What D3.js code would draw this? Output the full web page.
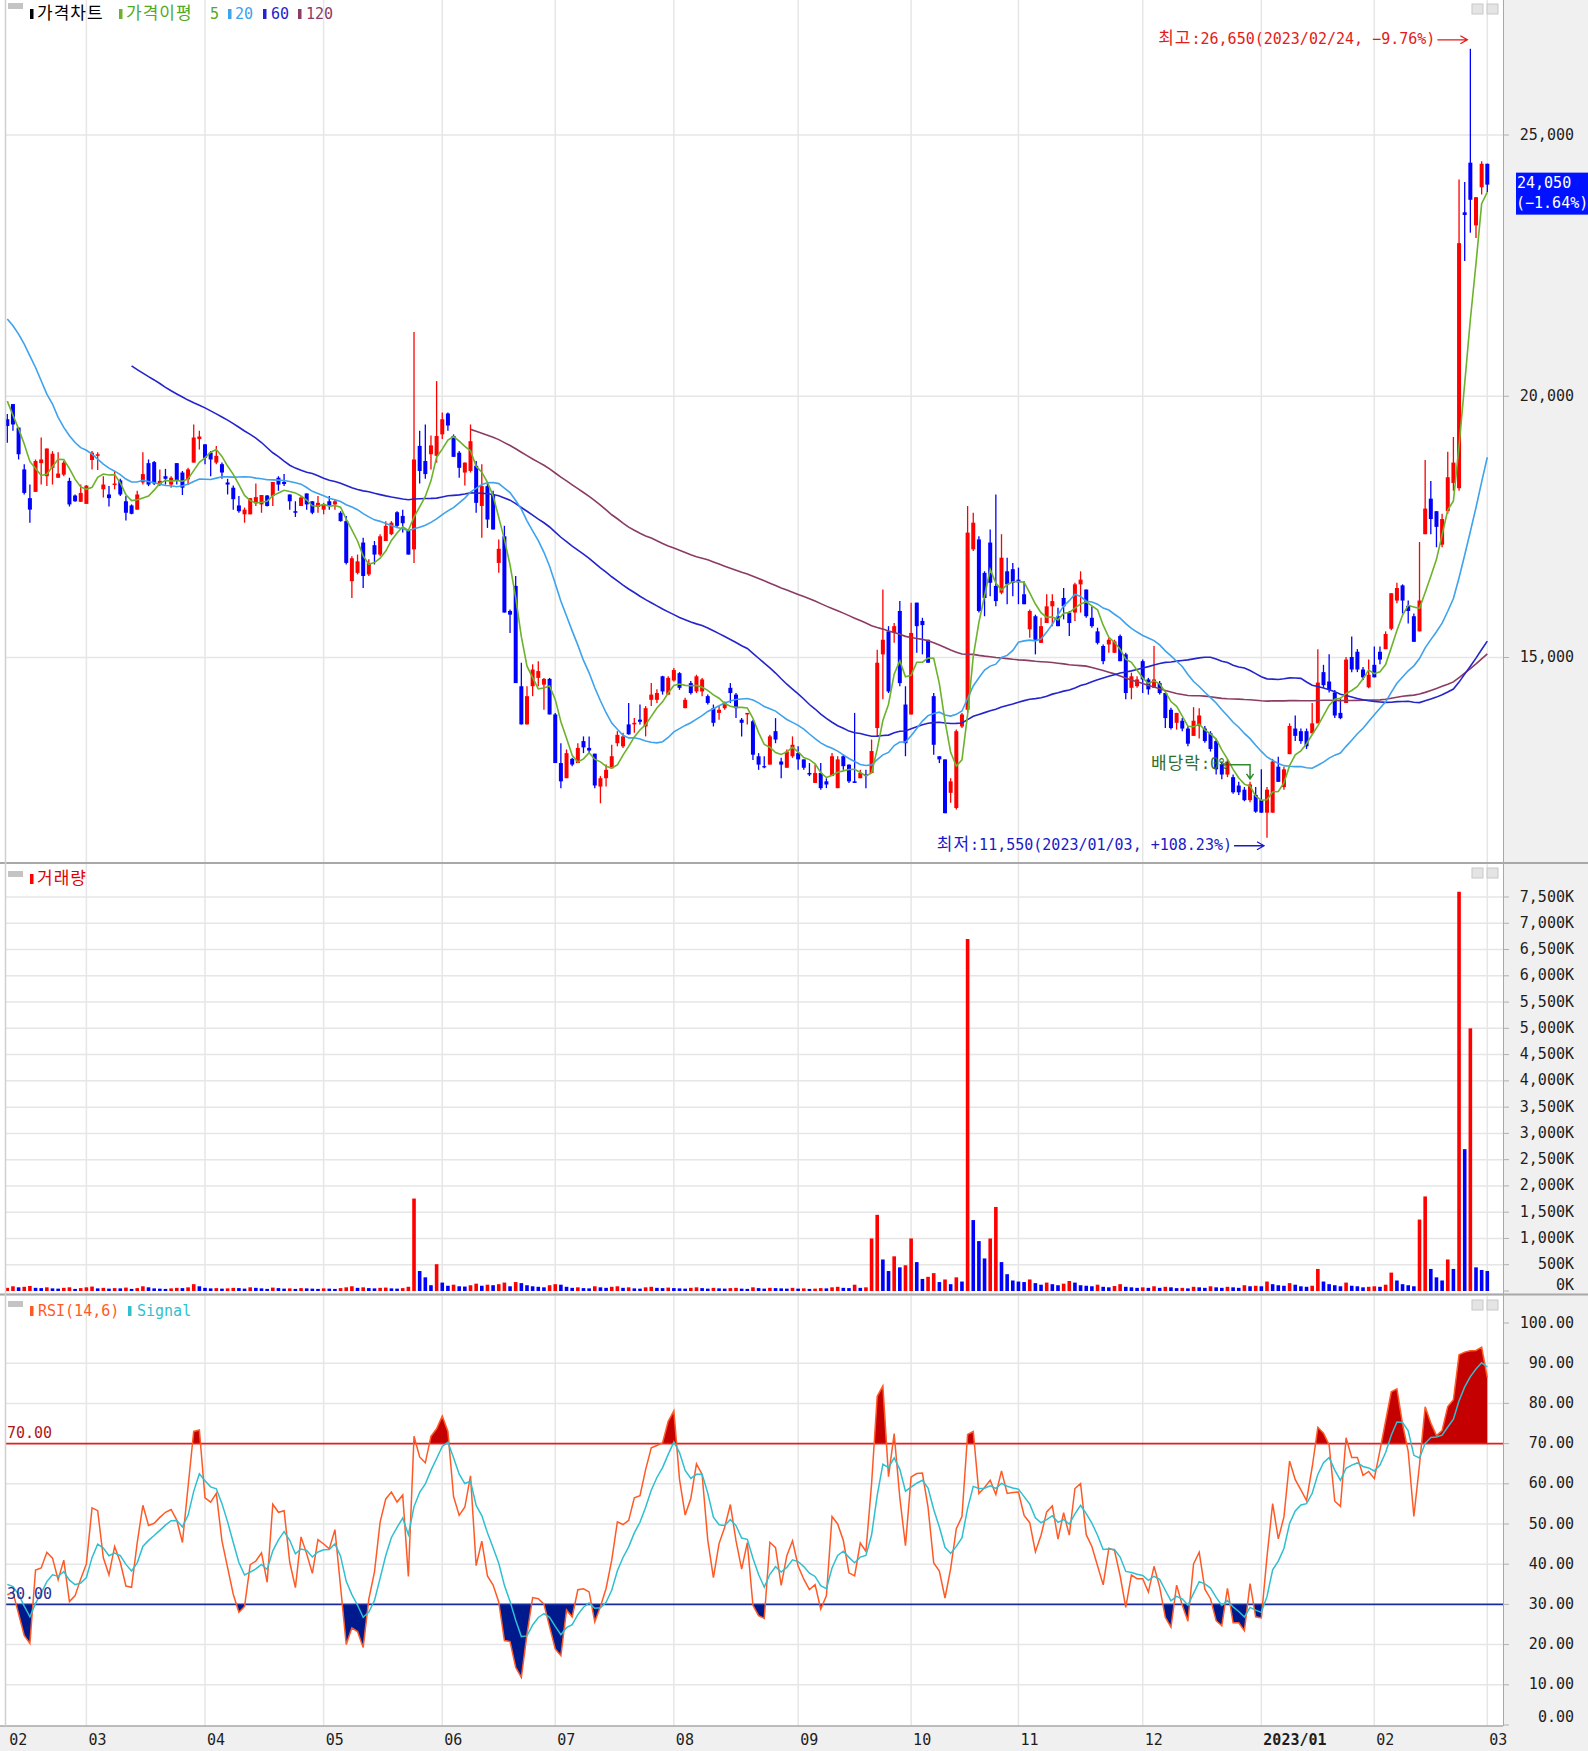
<!DOCTYPE html>
<html lang="ko">
<head>
<meta charset="utf-8">
<script src="https://cdn.jsdelivr.net/npm/d3@7"></script>
<style>
html,body{margin:0;padding:0;background:#f0f0f0;}
svg{display:block;}
text{font-family:"DejaVu Sans Mono","Noto Sans CJK KR",monospace;font-size:15px;}
</style>
</head>
<body>
<svg id="chart" width="1588" height="1751"></svg>
<script>
// ---------------- DATA ----------------
const firstDay = "2022-02-09";
const lastDay = "2023-03-02";
const holidays = ["2022-03-01","2022-03-09","2022-05-05","2022-06-01","2022-06-06","2022-08-15",
  "2022-09-09","2022-09-12","2022-10-03","2022-10-10","2022-12-30","2023-01-23","2023-01-24","2023-03-01"];

// closes before the visible window (estimated from the moving-average levels)
const priorCloses = [22400,22600,22300,22100,22500,22800,22400,22000,21800,22100,22300,22000,21900,22200,22400,22100,21900,22000,
  22000,22100,22000,22300,23200,23900,24100,22700,23600,22600,21100,20600,20100,19300,20400,20800,20200,19600,19500];

const opens = [
19560,19850,19400,18600,18050,18170,18720,18470,18630,18440,18500,18380,18100,17980,
17940,18780,18860,18220,18120,18300,18390,17990,17910,17830,18350,18720,18740,18310,18470,18310,18720,18540,18410,18730,19180,
19080,18920,18730,18700,18350,18250,17910,17740,17740,17950,17930,18100,18090,18440,18360,18120,17800,17900,18140,17990,17880,
17830,17990,17930,17770,17610,16460,16620,17200,16590,17150,16970,17230,17360,17780,17710,17420,17070,19050,18760,18890,18860,
19270,19670,19240,18920,18540,18570,18670,17900,18280,18120,16810,17320,15890,16370,14450,13720,14450,14610,14480,14590,
13910,12980,12690,13060,12980,13400,13270,13160,12530,12690,12880,13360,13300,13720,13720,13810,13680,14190,14190,14640,14290,
14560,14700,14030,14510,14350,14350,14260,14030,13940,14030,14420,14290,13810,13910,13780,13110,12920,12950,13590,13010,12890,13110,
13170,13050,12790,12600,12790,12630,12730,12500,13110,12950,12630,12690,12760,12790,13650,15060,15500,15470,15890,14100,
13910,16050,15700,15340,14260,13110,13050,12410,12120,13680,14000,17070,17260,16620,17200,16370,16240,16650,16690,
16490,16210,15540,15790,15280,15660,15980,15790,16140,15860,15860,16400,16300,15760,15500,15220,15250,15090,15410,15060,14420,14450,
14930,14580,14420,14510,14320,14000,13750,13790,13640,13500,13690,13640,13550,13400,12960,12760,12710,12550,12470,12270,12370,
12270,12030,12030,12910,12520,13150,13640,13590,13590,13550,13740,14720,14540,14330,13940,14130,15010,15110,14770,14430,
14860,15110,15160,15550,16090,16380,15990,15790,15500,17360,18040,17800,17160,17800,18340,18240,23520,24470,23270,24000,
24450];
const highs = [
19660,19850,19400,18700,18310,18790,19210,19000,18950,18930,18760,18440,18120,18310,
18300,18950,18930,18470,18280,18570,18420,18090,17930,18190,18930,18790,18760,18600,18610,18470,18720,18570,18630,19460,19340,
19080,18950,19050,18730,18420,18290,18090,17870,18050,18330,18110,18110,18360,18470,18510,18120,17990,18090,18140,17990,18090,
17960,18090,18030,17800,17710,16940,16970,17290,16880,17230,17360,17610,17610,17800,17830,17450,21230,19340,19460,19250,20290,
19690,19690,19270,18950,18730,19460,18760,18700,18350,18190,17260,17520,15920,16560,14900,14450,14870,14930,14610,14610,
13940,13360,13240,13080,13360,13490,13490,13160,12730,12950,13330,13590,13560,14130,13840,14100,14070,14510,14390,14650,14640,
14800,14720,14230,14550,14670,14610,14290,14100,14070,14160,14510,14320,13840,13940,13810,13170,13110,13520,13840,13080,13240,13490,
13300,13050,12980,12950,12980,12690,13170,13110,13140,12950,13940,12850,12850,13430,15150,16300,15600,15660,16080,14450,
16050,16050,15760,15340,14320,13110,13050,12690,13620,13940,17900,17770,17320,16650,17450,18120,17360,16910,16810,
16720,16460,15920,15820,15760,16210,16210,15950,16330,15890,16430,16650,16300,15980,15570,15250,15380,15340,15440,15090,14710,14640,
14960,14610,15220,14550,14320,14040,13940,13840,13690,14050,14030,13690,13590,13450,13010,13060,12760,12620,12520,12620,12520,
12860,12520,13060,13100,12910,13740,13890,13640,13640,14130,15160,14860,15060,14380,14230,15010,15400,15160,14820,14960,
15210,15210,15500,16230,16430,16400,16090,15840,17210,18780,18380,17800,17750,18940,19220,24150,24100,26650,23810,24500,
24450];
const lows = [
19110,19340,18790,18120,17580,18170,18310,18280,18310,18440,18470,17890,17980,17980,
17940,18600,18590,18060,17890,18220,18090,17620,17740,17830,18310,18280,18300,18280,18310,18250,18310,18110,18310,18730,18980,
18700,18470,18700,18420,18120,17830,17770,17580,17740,17900,17770,17890,17900,18190,18280,17830,17690,17900,17830,17740,17770,
17740,17830,17830,17600,16780,16140,16590,16330,16560,16780,16940,17230,17340,17480,17390,16970,16810,18330,18420,18600,18730,
19180,19340,18840,18440,18290,18540,17770,17290,17480,17450,16620,15860,15470,14510,13720,13720,14260,14450,14000,13910,
12980,12500,12690,12920,12980,13170,13170,12500,12210,12530,12880,13300,13270,13520,13560,13720,13490,14070,14130,14290,14290,
14540,14380,14030,14290,14320,14260,14100,13680,13810,14000,14130,13840,13490,13720,13040,12850,12880,12950,13360,12690,12890,13080,
12850,12850,12730,12600,12470,12500,12730,12500,12850,12600,12600,12690,12500,12790,13490,14200,14320,15280,14450,13110,
13910,15090,15060,14900,13140,12980,12020,12220,12090,13650,13940,17040,15860,15790,16170,15980,16210,16020,16170,
16020,16020,15380,15060,15280,15660,15600,15600,15730,15410,15700,15860,15760,15570,15250,14870,15090,15090,14930,14200,14200,14420,
14320,14290,14420,14290,13650,13620,13620,13590,13300,13500,13450,13370,13200,12760,12670,12710,12390,12370,12250,12230,12030,
12030,11550,12030,12620,12470,13150,13400,13350,13250,13550,13740,14420,14330,13840,13820,14130,14720,14720,14570,14410,
14620,14870,15160,15520,16040,15840,15650,15300,15500,17360,17360,17110,17110,17750,18190,18190,22590,23130,23030,23860,
23910];
const closes = [
19430,19460,18890,18150,17830,18760,18790,19000,18900,18520,18730,17930,17990,18150,
18290,18920,18890,18310,18050,18330,18120,17770,17750,18120,18510,18310,18330,18380,18420,18440,18380,18250,18600,19210,19230,
18820,18790,18860,18540,18310,18030,17800,17830,18050,18070,18110,17900,18360,18310,18320,17990,17770,18060,17930,17770,17960,
17930,17900,17990,17610,16810,16900,16840,16560,16810,16970,17320,17520,17580,17520,17570,16970,18790,18570,18510,19060,19240,
19560,19440,18840,18630,18730,19140,17960,18280,17640,17450,17080,15860,15820,14510,13720,14260,14770,14740,14590,13910,
12980,12630,13170,12950,13270,13280,13220,12550,12690,12850,13110,13520,13490,13530,13750,13770,14030,14290,14320,14350,14610,
14760,14420,14190,14320,14640,14580,14130,13750,14000,14130,14320,14030,13750,13940,13140,12950,12900,13490,13430,12950,13200,13330,
13050,12890,12760,12790,12500,12570,13110,13050,12920,12630,12600,12790,12730,13210,14900,15340,14350,15600,14510,13360,
15470,15600,15620,14900,13330,13050,12020,12630,13590,13910,17390,17580,15890,16140,16430,16080,16910,16400,16430,
16440,16020,15890,15340,15600,15980,16080,15600,15980,15660,16400,16490,15790,15600,15280,14930,15340,15310,14930,14320,14640,14580,
14580,14390,14580,14320,13840,13650,13940,13640,13350,13790,13890,13400,13250,12860,12760,13010,12420,12420,12270,12570,12050,
12030,12470,13010,12620,12860,13690,13500,13400,13300,13740,14520,14470,14380,13890,13840,14960,14770,14770,14620,14670,
14620,14960,15450,16230,16330,16090,15890,15300,16090,17850,17650,17500,17650,18450,18730,22930,23470,23760,23810,24450,
24050];
// volume in thousands of shares
const volumesK = [
60,90,70,80,95,60,55,70,50,45,60,70,40,55,
70,85,50,60,45,55,50,65,40,55,90,70,50,45,40,50,60,55,70,130,90,
60,50,55,45,50,60,55,45,70,60,50,40,65,55,45,50,40,55,50,45,40,
50,45,40,55,70,90,60,70,55,50,60,65,50,45,55,80,1760,380,260,110,510,
160,100,120,90,85,110,140,100,120,110,130,160,90,170,150,110,90,80,70,110,
130,120,80,60,70,55,50,90,70,60,80,90,60,70,50,45,70,80,60,55,65,
55,50,45,60,70,55,45,60,50,45,55,60,45,40,70,55,45,60,55,50,45,60,
45,50,40,45,55,50,70,80,60,55,120,60,70,1000,1450,600,380,660,450,490,
1000,550,230,270,340,170,220,130,260,180,6700,1350,950,620,1000,1600,550,320,200,
180,170,220,150,120,160,130,110,140,190,160,110,100,90,120,80,70,95,130,80,70,60,
70,60,90,60,80,70,55,60,50,80,70,60,90,70,60,80,70,60,110,90,100,
90,180,130,110,100,150,120,90,80,100,420,180,130,110,90,160,100,90,70,80,
90,80,120,350,200,130,110,90,1360,1800,420,260,200,600,420,7600,2700,5000,450,400,
380];

const priceTicks = [15000, 20000, 25000];
const volumeTicksK = [0,500,1000,1500,2000,2500,3000,3500,4000,4500,5000,5500,6000,6500,7000,7500];
const rsiTicks = [0,10,20,30,40,50,60,70,80,90,100];
const rsiLevels = [70, 30];
const maPeriods = [5, 20, 60, 120];
const rsiPeriod = 14, rsiSignalPeriod = 6;
const monthLabels = ["02","03","04","05","06","07","08","09","10","11","12","2023/01","02","03"];
const exDividendDate = "2022-12-28";
const exDividendText = "배당락:0%";

// ---------------- DERIVED ----------------
function buildDates(){
  const out=[], hol=new Set(holidays);
  let d=new Date(firstDay+"T00:00:00Z"); const end=new Date(lastDay+"T00:00:00Z");
  while(d<=end){
    const w=d.getUTCDay(), s=d.toISOString().slice(0,10);
    if(w!==0 && w!==6 && !hol.has(s)) out.push(s);
    d=new Date(d.getTime()+86400000);
  }
  return out;
}
const dates = buildDates();
const n = closes.length;
const allCloses = priorCloses.concat(closes);
const off = priorCloses.length;
function sma(p){
  return closes.map((_,i)=>{const e=off+i+1, s=e-p; return s<0?null:d3.mean(allCloses.slice(s,e));});
}
const mas = maPeriods.map(sma);
function rsiCalc(){
  const a=2/(rsiPeriod+1), b=2/(rsiSignalPeriod+1);
  let au=null, ad=null, s=null; const r=[], sg=[];
  for(let t=1;t<allCloses.length;t++){
    const d=allCloses[t]-allCloses[t-1], u=Math.max(d,0), dn=Math.max(-d,0);
    au = au===null?u:au+a*(u-au); ad = ad===null?dn:ad+a*(dn-ad);
    const v = (au+ad)===0?50:100*au/(au+ad);
    s = s===null?v:s+b*(v-s);
    if(t>=off){ r.push(v); sg.push(s); }
  }
  return [r,sg];
}
const [rsi, rsiSignal] = rsiCalc();

// ---------------- LAYOUT ----------------
const W=1588, H=1751, L=5, R=1503;
const PP={top:0,bottom:862}, VP={top:864,bottom:1293}, RP={top:1296,bottom:1726};
const x = d3.scalePoint().domain(dates).range([7.3, 1487.3]);
const xi = i => x(dates[i]);
const yP = d3.scaleLinear().domain([15000,25000]).range([657.5,135]);
const yV = d3.scaleLinear().domain([0,7500]).range([1291,897]);
const yR = d3.scaleLinear().domain([0,100]).range([1725,1323]);

const C = {up:"#ff0000", down:"#0000ff", grid:"#e6e6e6", ma:["#6cb22a","#3ea2ec","#2424cc","#8a3c64"],
  rsi:"#ff5a26", sig:"#2fbfcf", over:"#c40000", under:"#001a8e", axisText:"#1e1e1e"};

const svg = d3.select("#chart");
svg.append("rect").attr("width",W).attr("height",H).attr("fill","#f0f0f0");
const defs = svg.append("defs");
[["clipP",PP],["clipV",VP],["clipR",RP]].forEach(([id,p])=>{
  defs.append("clipPath").attr("id",id).append("rect").attr("x",L).attr("y",p.top).attr("width",R-L).attr("height",p.bottom-p.top);
});
defs.append("clipPath").attr("id","clipOver").append("rect").attr("x",L).attr("y",RP.top).attr("width",R-L).attr("height",yR(70)-RP.top);
defs.append("clipPath").attr("id","clipUnder").append("rect").attr("x",L).attr("y",yR(30)).attr("width",R-L).attr("height",RP.bottom-yR(30));

[PP,VP,RP].forEach(p=>svg.append("rect").attr("x",0).attr("y",p.top).attr("width",R).attr("height",p.bottom-p.top).attr("fill","#fff"));

// month start indices
const monthStarts = [];
dates.forEach((d,i)=>{ if(i===0 || d.slice(0,7)!==dates[i-1].slice(0,7)) monthStarts.push(i); });

// grid
const grid = svg.append("g").attr("stroke",C.grid).attr("stroke-width",1.5);
monthStarts.forEach(i=>{ if(i>0) grid.append("line").attr("x1",xi(i)).attr("x2",xi(i)).attr("y1",0).attr("y2",RP.bottom); });
priceTicks.forEach(v=>grid.append("line").attr("x1",L).attr("x2",R).attr("y1",yP(v)).attr("y2",yP(v)));
volumeTicksK.forEach(v=>{ if(v>0) grid.append("line").attr("x1",L).attr("x2",R).attr("y1",yV(v)).attr("y2",yV(v)); });
rsiTicks.forEach(v=>{ if(v>0 && v<100 && v!==70 && v!==30) grid.append("line").attr("x1",L).attr("x2",R).attr("y1",yR(v)).attr("y2",yR(v)); });

// ---- price panel ----
const gp = svg.append("g").attr("clip-path","url(#clipP)");
const idx = d3.range(n);
const colOf = i => closes[i]>=opens[i] ? C.up : C.down;
gp.selectAll("line.wick").data(idx).join("line")
  .attr("x1",i=>xi(i)).attr("x2",i=>xi(i)).attr("y1",i=>yP(highs[i])).attr("y2",i=>yP(lows[i]))
  .attr("stroke",colOf).attr("stroke-width",1.3);
gp.selectAll("rect.body").data(idx).join("rect")
  .attr("x",i=>xi(i)-2).attr("width",4)
  .attr("y",i=>yP(Math.max(opens[i],closes[i])))
  .attr("height",i=>Math.max(1.2,Math.abs(yP(opens[i])-yP(closes[i]))))
  .attr("fill",colOf);
const maLine = d3.line().defined(d=>d!=null).x((d,i)=>xi(i)).y(d=>yP(d));
[3,2,1,0].forEach(k=>gp.append("path").attr("d",maLine(mas[k])).attr("fill","none").attr("stroke",C.ma[k]).attr("stroke-width",1.6));

// ---- volume panel ----
const gv = svg.append("g").attr("clip-path","url(#clipV)");
gv.selectAll("rect").data(idx).join("rect")
  .attr("x",i=>xi(i)-1.8).attr("width",3.6)
  .attr("y",i=>yV(volumesK[i])).attr("height",i=>yV(0)-yV(volumesK[i]))
  .attr("fill",i=>(i===0||volumesK[i]>=volumesK[i-1])?C.up:C.down);

// ---- RSI panel ----
const gr = svg.append("g").attr("clip-path","url(#clipR)");
const areaFrom = lvl => d3.area().x((d,i)=>xi(i)).y0(yR(lvl)).y1(d=>yR(d));
gr.append("path").attr("d",areaFrom(70)(rsi)).attr("fill",C.over).attr("clip-path","url(#clipOver)");
gr.append("path").attr("d",areaFrom(30)(rsi)).attr("fill",C.under).attr("clip-path","url(#clipUnder)");
gr.append("line").attr("x1",L).attr("x2",R).attr("y1",yR(70)).attr("y2",yR(70)).attr("stroke","#e02020").attr("stroke-width",1.6);
gr.append("line").attr("x1",L).attr("x2",R).attr("y1",yR(30)).attr("y2",yR(30)).attr("stroke","#1a2c9c").attr("stroke-width",1.6);
const rLine = d3.line().x((d,i)=>xi(i)).y(d=>yR(d));
gr.append("path").attr("d",rLine(rsi)).attr("fill","none").attr("stroke",C.rsi).attr("stroke-width",1.5);
gr.append("path").attr("d",rLine(rsiSignal)).attr("fill","none").attr("stroke",C.sig).attr("stroke-width",1.5);
svg.append("text").attr("x",7).attr("y",yR(70)-10).attr("dominant-baseline","middle").attr("fill","#b01818").text(d3.format(".2f")(rsiLevels[0]));
svg.append("text").attr("x",7).attr("y",yR(30)-10).attr("dominant-baseline","middle").attr("fill","#2a2e96").text(d3.format(".2f")(rsiLevels[1]));

// ---- borders ----
const bd = svg.append("g").attr("stroke","#a8a8a8");
bd.append("line").attr("x1",0).attr("x2",W).attr("y1",PP.bottom+1).attr("y2",PP.bottom+1).attr("stroke-width",2);
bd.append("line").attr("x1",0).attr("x2",W).attr("y1",VP.bottom+1.5).attr("y2",VP.bottom+1.5).attr("stroke-width",2);
bd.append("line").attr("x1",0).attr("x2",R).attr("y1",RP.bottom).attr("y2",RP.bottom).attr("stroke-width",1.5);
bd.append("line").attr("x1",R+0.5).attr("x2",R+0.5).attr("y1",0).attr("y2",RP.bottom).attr("stroke-width",1);
bd.append("line").attr("x1",5.5).attr("x2",5.5).attr("y1",0).attr("y2",RP.bottom).attr("stroke","#d0d0d0").attr("stroke-width",1.5);

// ---- right axes ----
const ax = svg.append("g").attr("fill",C.axisText).attr("text-anchor","end");
const tick = y => svg.append("line").attr("x1",R).attr("x2",R+6).attr("y1",y).attr("y2",y).attr("stroke","#b0b0b0");
priceTicks.forEach(v=>{ tick(yP(v)); ax.append("text").attr("x",1574).attr("y",yP(v)).attr("dominant-baseline","middle").attr("font-size",16).text(d3.format(",")(v)); });
volumeTicksK.forEach(v=>{ tick(yV(v)); ax.append("text").attr("x",1574).attr("y",Math.min(yV(v),1285)).attr("dominant-baseline","middle").attr("font-size",16).text(d3.format(",")(v)+"K"); });
rsiTicks.forEach(v=>{ tick(yR(v)); ax.append("text").attr("x",1574).attr("y",Math.min(yR(v),1717)).attr("dominant-baseline","middle").attr("font-size",16).text(d3.format(".2f")(v)); });

// current price box
const last = closes[n-1], prev = closes[n-2];
const chg = (last-prev)/prev*100;
const by = yP(last);
svg.append("rect").attr("x",1516).attr("y",by-12).attr("width",72).attr("height",42).attr("fill","#0012ff");
svg.append("text").attr("x",1517).attr("y",by-1).attr("dominant-baseline","middle").attr("fill","#fff").attr("font-size",16).text(d3.format(",")(last));
svg.append("text").attr("x",1516).attr("y",by+19).attr("dominant-baseline","middle").attr("fill","#fff").attr("font-size",16).text("("+d3.format("+.2f")(chg).replace("+","")+"%)");

// x axis labels
monthStarts.forEach((i,k)=>{
  svg.append("text").attr("x",xi(i)+2).attr("y",1740).attr("dominant-baseline","middle")
    .attr("fill",C.axisText).attr("font-weight",monthLabels[k].length>2?"bold":"normal").text(monthLabels[k]);
});

// rich text helper (Hangul runs in CJK font)
function rich(g, str, attrs){
  const t = g.append("text");
  Object.entries(attrs).forEach(([k,v])=>t.attr(k,v));
  (str.match(/[\uAC00-\uD7A3]+|[^\uAC00-\uD7A3]+/g)||[]).forEach(r=>{
    const ts=t.append("tspan").text(r);
    if(/[\uAC00-\uD7A3]/.test(r)) ts.attr("font-family","'Noto Sans CJK KR'").attr("font-size",17).attr("letter-spacing",1);
  });
  return t;
}

// legends
function legendIcon(y){ svg.append("rect").attr("x",8).attr("y",y).attr("width",15).attr("height",6).attr("fill","#c4c4c4"); }
function panelIcons(y){
  [1472,1487].forEach(px=>svg.append("rect").attr("x",px).attr("y",y).attr("width",11).attr("height",10).attr("fill","#e4e4e4").attr("stroke","#c8c8c8"));
}
function marker(px,y,color){ svg.append("rect").attr("x",px).attr("y",y-5).attr("width",3.5).attr("height",10).attr("fill",color); }
legendIcon(3); panelIcons(4);
const legY = 14;
marker(30,legY,"#000"); rich(svg,"가격차트",{x:37,y:legY,"dominant-baseline":"middle",fill:"#000"});
marker(119,legY,C.ma[0]); rich(svg,"가격이평",{x:126,y:legY,"dominant-baseline":"middle",fill:"#52a820"});
svg.append("text").attr("x",210).attr("y",legY).attr("dominant-baseline","middle").attr("fill","#52a820").text(String(maPeriods[0]));
marker(228,legY,C.ma[1]); svg.append("text").attr("x",235).attr("y",legY).attr("dominant-baseline","middle").attr("fill",C.ma[1]).text(String(maPeriods[1]));
marker(263,legY,C.ma[2]); svg.append("text").attr("x",271).attr("y",legY).attr("dominant-baseline","middle").attr("fill",C.ma[2]).text(String(maPeriods[2]));
marker(298,legY,C.ma[3]); svg.append("text").attr("x",306).attr("y",legY).attr("dominant-baseline","middle").attr("fill",C.ma[3]).text(String(maPeriods[3]));

legendIcon(871); panelIcons(868);
marker(30,879,C.up); rich(svg,"거래량",{x:37,y:879,"dominant-baseline":"middle",fill:"#e00000"});

legendIcon(1301); panelIcons(1300);
marker(30,1311,C.rsi); svg.append("text").attr("x",38).attr("y",1311).attr("dominant-baseline","middle").attr("fill",C.rsi).text(`RSI(${rsiPeriod},${rsiSignalPeriod})`);
marker(128,1311,C.sig); svg.append("text").attr("x",137).attr("y",1311).attr("dominant-baseline","middle").attr("fill",C.sig).text("Signal");

// high / low annotations
const hiIdx = d3.maxIndex(highs), loIdx = d3.minIndex(lows);
const fmtD = s => s.replace(/-/g,"/");
function annotate(i, val, y, color, sign){
  const pct = (last-val)/val*100;
  const txt = `${val===highs[hiIdx]?"최고":"최저"}:${d3.format(",")(val)}(${fmtD(dates[i])}, ${sign?"+":""}${d3.format(".2f")(pct)}%)`;
  const tip = xi(i)-3, start = tip-30;
  rich(svg, txt, {x:start-2, y:y, "text-anchor":"end", "dominant-baseline":"middle", fill:color});
  svg.append("path").attr("d",`M${start},${y+1}H${tip}M${tip-7},${y-3}L${tip},${y+1}L${tip-7},${y+5}`)
    .attr("fill","none").attr("stroke",color).attr("stroke-width",1.3);
}
annotate(hiIdx, highs[hiIdx], yP(highs[hiIdx])-10, "#e41a1a", false);
annotate(loIdx, lows[loIdx], yP(lows[loIdx])+7, "#1a1ac8", true);

// ex-dividend marker
const exI = dates.indexOf(exDividendDate);
if(exI>=0){
  const ex = xi(exI), ty = yP(highs[exI])-18, tipY = yP(highs[exI])-3;
  rich(svg, exDividendText, {x:ex-22, y:ty, "text-anchor":"end","dominant-baseline":"middle",fill:"#2f6e2f"});
  svg.append("path").attr("d",`M${ex-21},${ty+1}H${ex}V${tipY}M${ex-3.5},${tipY-5}L${ex},${tipY}L${ex+3.5},${tipY-5}`)
    .attr("fill","none").attr("stroke","#2e8b2e").attr("stroke-width",1.5);
}
</script>
</body>
</html>
